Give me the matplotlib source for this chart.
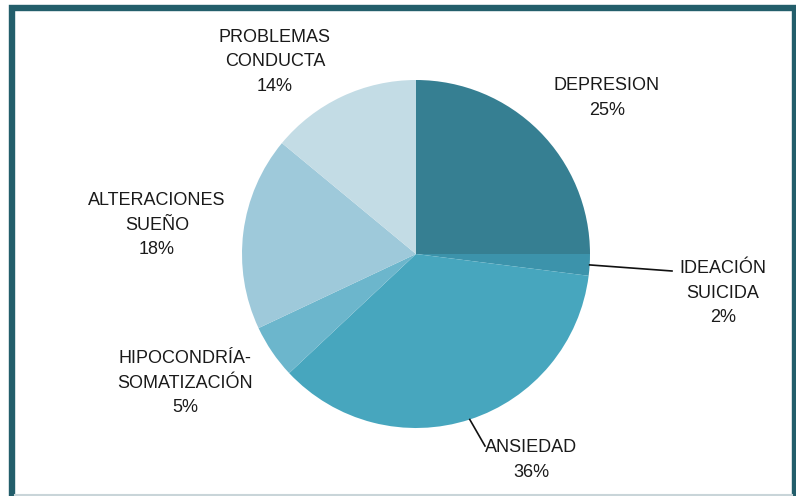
import matplotlib
matplotlib.use("Agg")
import matplotlib.pyplot as plt
from matplotlib.patches import Rectangle
from matplotlib.lines import Line2D
import numpy as np

categories = ["DEPRESION", "IDEACIÓN\nSUICIDA", "ANSIEDAD", "HIPOCONDRÍA-\nSOMATIZACIÓN",
              "ALTERACIONES\nSUEÑO", "PROBLEMAS\nCONDUCTA"]
values = [25, 2, 36, 5, 18, 14]
colors = ["#367F92", "#3C93AB", "#47A6BE", "#6CB6CC", "#9EC9DA", "#C3DCE5"]

W, H = 796, 496
fig = plt.figure(figsize=(W / 100, H / 100), dpi=100)
fig.patch.set_facecolor("white")

plt.rcParams['font.family'] = ['Liberation Sans', 'DejaVu Sans']

# pie axes
cx, cy, r = 416, 254, 174
ax = fig.add_axes([(cx - r) / W, (H - cy - r) / H, 2 * r / W, 2 * r / H])
wedges, _ = ax.pie(values, colors=colors, startangle=90, counterclock=False,
                   radius=1, wedgeprops=dict(linewidth=0))
ax.set_xlim(-1, 1)
ax.set_ylim(-1, 1)
ax.set_aspect("equal")
ax.axis("off")

# label positions (pixel centers of text blocks)
label_pos = {
    0: (607, 98),
    1: (723, 293),
    2: (531, 460),
    3: (185, 383),
    4: (157, 225),
    5: (275, 62),
}
fs = 13
for i, (cat, v) in enumerate(zip(categories, values)):
    x, y = label_pos[i]
    fig.text(x / W, 1 - y / H, f"{cat}\n{v}%", ha="center", va="center",
             fontsize=fs, color="#1a1a1a", linespacing=1.6)

# leader lines
def edge_point(idx):
    start = 90 - sum(values[:idx]) * 3.6
    mid = start - values[idx] * 3.6 / 2
    t = np.deg2rad(mid)
    return cx + r * np.cos(t), cy - r * np.sin(t)

for idx, end in [(1, (672, 271)), (2, (485, 446))]:
    x0, y0 = edge_point(idx)
    fig.add_artist(Line2D([x0 / W, end[0] / W], [1 - y0 / H, 1 - end[1] / H],
                          transform=fig.transFigure, color="#111111", lw=1.2))

# frame
frame = Rectangle((12 / W, 1 - 520 / H), (795 - 12) / W, (520 - 8) / H,
                  transform=fig.transFigure, fill=False, edgecolor="#235E6B",
                  linewidth=4.6)
fig.add_artist(frame)
fig.add_artist(Line2D([15 / W, 792 / W], [1 - 495 / H, 1 - 495 / H],
                      transform=fig.transFigure, color="#C9D5D9", lw=1.5))

fig.savefig("out.png", dpi=100)
